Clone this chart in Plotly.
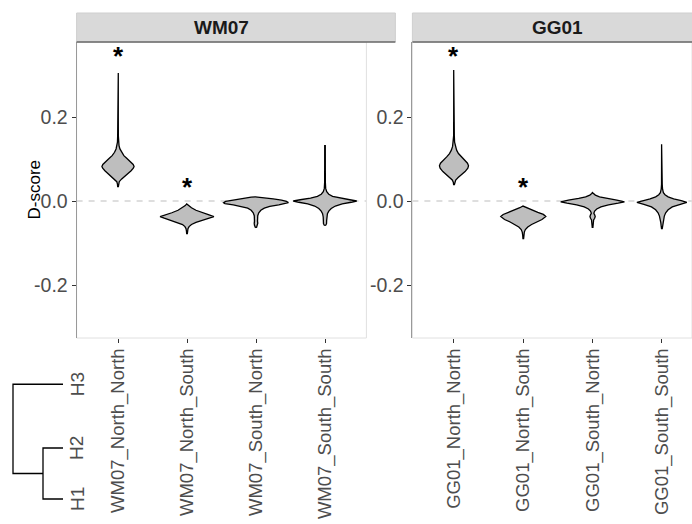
import plotly.graph_objects as go

W, H = 692, 524
FONT = "Liberation Sans, Arial, sans-serif"

# ---- data -------------------------------------------------------------
wm07_labels = ["WM07_North_North", "WM07_North_South", "WM07_South_North", "WM07_South_South"]
gg01_labels = ["GG01_North_North", "GG01_North_South", "GG01_South_North", "GG01_South_South"]

# violin outlines: D-score levels and the half-width of the density at each level
wm07_nn_y = [0.033, 0.040, 0.046, 0.052, 0.058, 0.065, 0.072, 0.078, 0.082, 0.087, 0.094,
             0.101, 0.108, 0.116, 0.124, 0.132, 0.140, 0.155, 0.200, 0.305]
wm07_nn_w = [0.004, 0.008, 0.018, 0.050, 0.095, 0.145, 0.190, 0.222, 0.233, 0.220, 0.180,
             0.130, 0.085, 0.050, 0.028, 0.015, 0.008, 0.005, 0.004, 0.004]

wm07_ns_y = [-0.079, -0.072, -0.066, -0.061, -0.056, -0.051, -0.046, -0.041, -0.037,
             -0.033, -0.028, -0.022, -0.016, -0.011, -0.007]
wm07_ns_w = [0.004, 0.008, 0.014, 0.030, 0.065, 0.130, 0.230, 0.330, 0.390,
             0.320, 0.220, 0.130, 0.065, 0.025, 0.004]

wm07_sn_y = [-0.064, -0.058, -0.053, -0.048, -0.042, -0.035, -0.028, -0.022, -0.017,
             -0.013, -0.009, -0.006, -0.004, -0.001, 0.002, 0.005, 0.007, 0.009, 0.010]
wm07_sn_w = [0.006, 0.022, 0.026, 0.022, 0.020, 0.025, 0.040, 0.070, 0.120,
             0.200, 0.330, 0.450, 0.470, 0.440, 0.370, 0.250, 0.150, 0.070, 0.010]

wm07_ss_y = [-0.059, -0.054, -0.046, -0.038, -0.030, -0.024, -0.018, -0.012, -0.007,
             -0.003, 0.000, 0.003, 0.007, 0.011, 0.016, 0.022, 0.030, 0.045, 0.132]
wm07_ss_w = [0.006, 0.022, 0.024, 0.026, 0.035, 0.055, 0.090, 0.150, 0.250,
             0.380, 0.460, 0.360, 0.210, 0.110, 0.055, 0.025, 0.010, 0.005, 0.004]

gg01_nn_y = [0.038, 0.045, 0.050, 0.056, 0.063, 0.070, 0.078, 0.084, 0.090, 0.097,
             0.105, 0.113, 0.121, 0.130, 0.140, 0.155, 0.200, 0.312]
gg01_nn_w = [0.004, 0.010, 0.025, 0.060, 0.110, 0.160, 0.200, 0.210, 0.195, 0.155,
             0.105, 0.065, 0.038, 0.020, 0.009, 0.005, 0.004, 0.004]

gg01_ns_y = [-0.091, -0.082, -0.074, -0.068, -0.062, -0.056, -0.050, -0.044, -0.037,
             -0.032, -0.027, -0.021, -0.016, -0.012]
gg01_ns_w = [0.004, 0.008, 0.015, 0.030, 0.065, 0.120, 0.190, 0.270, 0.325,
             0.290, 0.210, 0.120, 0.050, 0.004]

gg01_sn_y = [-0.064, -0.058, -0.051, -0.045, -0.041, -0.037, -0.033, -0.029, -0.024,
             -0.019, -0.014, -0.009, -0.005, -0.002, 0.002, 0.006, 0.010, 0.014, 0.018, 0.020]
gg01_sn_w = [0.004, 0.010, 0.012, 0.015, 0.030, 0.038, 0.030, 0.018, 0.030,
             0.060, 0.120, 0.230, 0.370, 0.460, 0.350, 0.200, 0.100, 0.040, 0.010, 0.004]

gg01_ss_y = [-0.067, -0.060, -0.052, -0.044, -0.036, -0.028, -0.021, -0.014, -0.008,
             -0.003, 0.001, 0.005, 0.010, 0.015, 0.020, 0.028, 0.040, 0.135]
gg01_ss_w = [0.004, 0.010, 0.015, 0.022, 0.035, 0.055, 0.090, 0.150, 0.260,
             0.360, 0.280, 0.170, 0.090, 0.045, 0.022, 0.010, 0.005, 0.004]

# significance marks (first two groups of each panel)
wm07_star_y = [0.345, 0.034]
gg01_star_y = [0.345, 0.034]

d_ticks = [-0.2, 0.0, 0.2]
d_tick_text = ["-0.2", "0.0", "0.2"]

# haplotype tree: leaf order/positions and merges (child a, child b, height)
hap_names = ["H1", "H2", "H3"]
hap_pos = [0.0, 1.0, 2.25]
hap_merges = [(0, 1, 1.0), (3, 2, 2.5)]

# ---- figure -----------------------------------------------------------
fig = go.Figure()


def py(px):
    return 1 - px / H


def add_violin(xa, ya, centre, ys, ws):
    xs = [centre + w for w in ws] + [centre - w for w in reversed(ws)]
    yy = list(ys) + list(reversed(ys))
    fig.add_trace(go.Scatter(x=xs, y=yy, xaxis=xa, yaxis=ya, mode="lines",
                             fill="toself", fillcolor="#BEBEBE",
                             line=dict(color="black", width=1.3),
                             hoverinfo="skip", showlegend=False))


panels = [
    ("x", "y", "WM07", wm07_labels,
     [(wm07_nn_y, wm07_nn_w), (wm07_ns_y, wm07_ns_w), (wm07_sn_y, wm07_sn_w), (wm07_ss_y, wm07_ss_w)],
     wm07_star_y),
    ("x2", "y2", "GG01", gg01_labels,
     [(gg01_nn_y, gg01_nn_w), (gg01_ns_y, gg01_ns_w), (gg01_sn_y, gg01_sn_w), (gg01_ss_y, gg01_ss_w)],
     gg01_star_y),
]

shapes = []
annotations = []
for xa, ya, title, labels, profiles, stars in panels:
    for i, (ys, ws) in enumerate(profiles):
        add_violin(xa, ya, i + 1, ys, ws)
    # reference line at zero
    shapes.append(dict(type="line", xref=f"{xa} domain", x0=0, x1=1, yref=ya, y0=0, y1=0,
                       line=dict(color="#BDBDBD", width=1, dash="6px,6px"), layer="below"))
    # panel border
    shapes.append(dict(type="rect", xref=f"{xa} domain", x0=0, x1=1,
                       yref=f"{ya} domain", y0=0, y1=1,
                       line=dict(color="#E0E0E0", width=1), layer="below"))
    # facet strip
    shapes.append(dict(type="rect", xref=f"{xa} domain", x0=0, x1=1.1,
                       yref="paper", y0=py(42), y1=py(13),
                       fillcolor="#D9D9D9", line=dict(color="#CFCFCF", width=1)))
    shapes.append(dict(type="line", xref=f"{xa} domain", x0=0, x1=1.1,
                       yref="paper", y0=py(42), y1=py(42),
                       line=dict(color="#333333", width=1)))
    annotations.append(dict(text=f"<b>{title}</b>", xref=xa, x=2.5, yref="paper", y=py(27.5),
                            showarrow=False, xanchor="center", yanchor="middle",
                            font=dict(family=FONT, size=19, color="#1A1A1A")))
    for i, sy in enumerate(stars):
        annotations.append(dict(text="<b>*</b>", xref=xa, x=i + 1, yref=ya, y=sy,
                                showarrow=False, xanchor="center", yanchor="middle",
                                font=dict(family=FONT, size=26, color="black")))

annotations.append(dict(text="D-score", textangle=-90, xref="paper", x=22 / W,
                        yref="paper", y=py(190), showarrow=False,
                        font=dict(family=FONT, size=17, color="black")))

# haplotype dendrogram
node_pos = list(hap_pos)
node_h = [0.0] * len(hap_pos)
tx, ty = [], []
for a, b, h in hap_merges:
    tx += [node_h[a], h, h, node_h[b], None]
    ty += [node_pos[a], node_pos[a], node_pos[b], node_pos[b], None]
    node_pos.append((node_pos[a] + node_pos[b]) / 2)
    node_h.append(h)
fig.add_trace(go.Scatter(x=tx, y=ty, xaxis="x3", yaxis="y3", mode="lines",
                         line=dict(color="black", width=1.3), hoverinfo="skip",
                         showlegend=False))
for name, p in zip(hap_names, hap_pos):
    annotations.append(dict(text=name, textangle=-90, xref="x3", x=-0.7, yref="y3", y=p,
                            showarrow=False, xanchor="center", yanchor="middle",
                            font=dict(family=FONT, size=19, color="#4D4D4D")))

xcommon = dict(tickmode="array", tickvals=[1, 2, 3, 4], tickangle=-90, ticks="outside",
               ticklen=4, tickcolor="#333333", tickwidth=1, automargin=False,
               ticklabelstandoff=-2,
               tickfont=dict(family=FONT, size=18.5, color="#4D4D4D"),
               showgrid=False, zeroline=False, showline=False)
ycommon = dict(tickmode="array", tickvals=d_ticks, ticktext=d_tick_text,
               range=[-0.3262, 0.3786], domain=[py(338), py(42)], ticks="outside",
               ticklen=4, tickcolor="#333333", tickwidth=1, automargin=False,
               tickfont=dict(family=FONT, size=19.5, color="#4D4D4D"),
               showgrid=False, zeroline=False, showline=True, linecolor="#999999",
               linewidth=1)

fig.update_layout(
    width=W, height=H, margin=dict(l=0, r=0, t=0, b=0, autoexpand=False),
    paper_bgcolor="white", plot_bgcolor="white", showlegend=False,
    xaxis=dict(xcommon, ticktext=wm07_labels, domain=[76.6 / W, 366.4 / W],
               range=[0.4, 4.6], anchor="y"),
    yaxis=dict(ycommon, anchor="x"),
    xaxis2=dict(xcommon, ticktext=gg01_labels, domain=[412.4 / W, 1],
                range=[0.4, 0.4 + 279.6 / 69.3], anchor="y2"),
    yaxis2=dict(ycommon, anchor="x2"),
    xaxis3=dict(domain=[0, 90 / W], range=[3.15, -1.35], visible=False, anchor="y3"),
    yaxis3=dict(domain=[0, py(370)], range=[-0.49, 2.529], visible=False, anchor="x3"),
    shapes=shapes, annotations=annotations,
    font=dict(family=FONT),
)

fig.write_html("out.html")
